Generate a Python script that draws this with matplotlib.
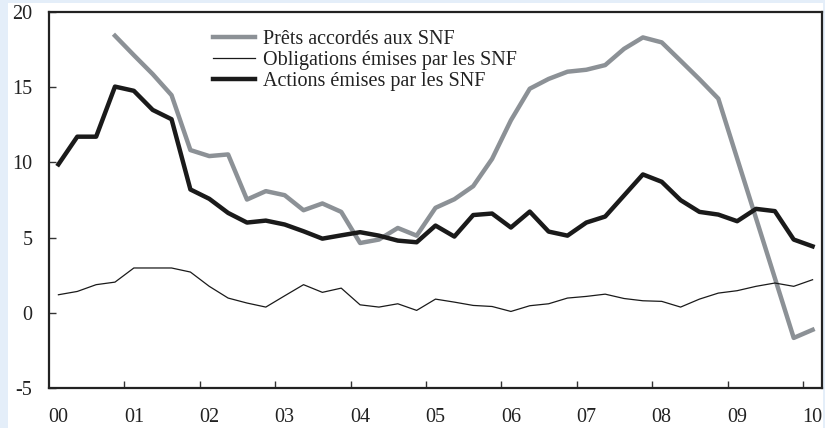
import numpy as np
import pandas as pd
import matplotlib
matplotlib.use('Agg')
import matplotlib.pyplot as plt
from matplotlib.patches import Rectangle

# trimestres 2000T1 -> 2010T1
trimestres = pd.period_range('2000Q1', '2010Q1', freq='Q')
annees = ['00', '01', '02', '03', '04', '05', '06', '07', '08', '09', '10']

prets = [np.nan, np.nan, np.nan, 18.42, 17.13, 15.87, 14.47, 10.82, 10.42, 10.53,
         7.53, 8.09, 7.82, 6.82, 7.27, 6.71, 4.64, 4.87, 5.64, 5.13,
         6.98, 7.55, 8.42, 10.23, 12.80, 14.90, 15.55, 16.03, 16.16, 16.47,
         17.55, 18.31, 17.98, 16.76, 15.53, 14.24, 10.26, 6.29, 2.31, -1.67, -1.13]
obligations = [1.20, 1.42, 1.87, 2.04, 2.98, 2.98, 2.98, 2.71, 1.76, 0.98,
               0.65, 0.38, 1.13, 1.87, 1.36, 1.64, 0.53, 0.38, 0.60, 0.16,
               0.91, 0.71, 0.49, 0.42, 0.09, 0.47, 0.60, 0.98, 1.09, 1.24,
               0.95, 0.80, 0.76, 0.38, 0.91, 1.31, 1.47, 1.76, 1.98, 1.76, 2.20]
actions = [9.87, 11.71, 11.71, 15.04, 14.76, 13.49, 12.87, 8.20, 7.58, 6.64,
           6.00, 6.13, 5.87, 5.42, 4.93, 5.15, 5.36, 5.13, 4.80, 4.69,
           5.80, 5.07, 6.50, 6.60, 5.67, 6.73, 5.40, 5.13, 6.00, 6.40,
           7.80, 9.20, 8.71, 7.49, 6.71, 6.53, 6.09, 6.91, 6.76, 4.87, 4.42]

# position au milieu du trimestre
x = trimestres.year + (trimestres.quarter - 0.5) / 4

plt.rcParams['font.family'] = ['Liberation Serif', 'DejaVu Serif']

fig = plt.figure(figsize=(8.25, 4.28), dpi=100, facecolor='#e4eef9')
fig.patches.append(Rectangle((8/825, 0), 815/825, 425/428, transform=fig.transFigure,
                             facecolor='white', edgecolor='none', zorder=-10))
ax = fig.add_axes([49/825, 40/428, 773/825, 376/428])

ax.plot(x, prets, c='#8c9196', lw=3.2, label='Prêts accordés aux SNF')
ax.plot(x, obligations, c='#1a1a1a', lw=0.9, label='Obligations émises par les SNF')
ax.plot(x, actions, c='#1a1a1a', lw=3.2, label='Actions émises par les SNF')

ax.set_xlim(2000, 2010.25)
ax.set_ylim(-5, 20)
ax.set_yticks([-5, 0, 5, 10, 15, 20])
ax.set_yticklabels(['-5', '0', '5', '10', '15', '20'])
ax.set_xticks(range(2001, 2011))
ax.set_xticklabels([])
ax.set_xticks([2000.125 + i for i in range(11)], minor=True)
ax.set_xticklabels(annees, minor=True)
ax.tick_params(axis='x', which='major', direction='in', length=5, width=1, color='#333333')
ax.tick_params(axis='x', which='minor', length=0, pad=14.5, labelsize=14.5, labelcolor='#222222')
ax.tick_params(axis='y', direction='in', length=5, width=1, pad=12, labelsize=14.5,
               labelcolor='#222222', color='#333333')
for s in ax.spines.values():
    s.set_linewidth(1.6)
    s.set_color('#222222')

leg = ax.legend(loc='upper left', bbox_to_anchor=(0.212, 0.952), frameon=False,
                fontsize=14.5, handlelength=2.1, handletextpad=0.4, labelspacing=0.1,
                borderpad=0, borderaxespad=0)
for t in leg.get_texts():
    t.set_color('#222222')

fig.savefig('out.png', dpi=100, facecolor=fig.get_facecolor())
